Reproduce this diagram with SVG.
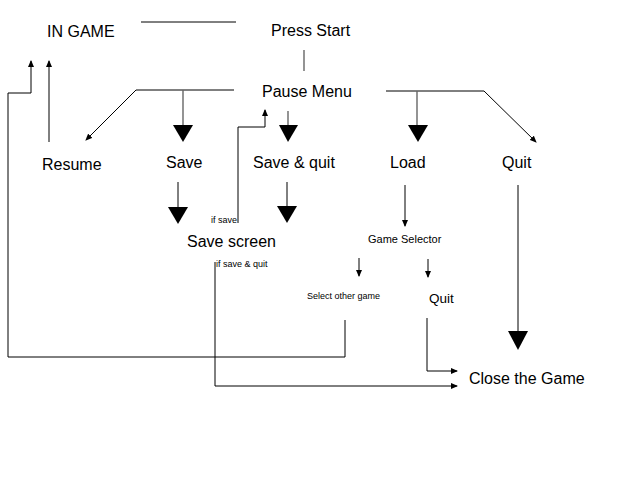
<svg xmlns="http://www.w3.org/2000/svg" width="640" height="480" viewBox="0 0 640 480">
<defs>
<style>
text{font-family:"Liberation Sans",Arial,sans-serif;fill:#000}
.l{font-size:16px}
.m{font-size:11px}
.s{font-size:9px}
.q{font-size:13.5px}
.k{fill:none;stroke:#000;stroke-width:1}
.g{fill:none;stroke:#666;stroke-width:1.4}
.tri{fill:#000}
</style>
<marker id="a" markerWidth="7" markerHeight="6" refX="6" refY="3" orient="auto" markerUnits="userSpaceOnUse">
<path d="M0,0 L7,3 L0,6 Z" fill="#000"/>
</marker>
</defs>
<rect width="640" height="480" fill="#fff"/>
<g id="connectors">
<line class="k" x1="141" y1="22" x2="236" y2="22"/>
<line class="g" x1="304" y1="50" x2="304" y2="71"/>
<polyline class="k" points="234,90 136,90 86,140" marker-end="url(#a)"/>
<line class="g" x1="183" y1="90" x2="183" y2="125"/>
<polygon class="tri" points="173,125 193,125 183,142"/>
<line class="g" x1="288" y1="111" x2="288" y2="125"/>
<polygon class="tri" points="279,125 298,125 288,142"/>
<polyline class="k" points="386,91 484,91 536,142" marker-end="url(#a)"/>
<line class="g" x1="417" y1="91" x2="417" y2="125"/>
<polygon class="tri" points="408,125 428,125 418,142"/>
<polyline class="k" points="238,223 238,127 265,127 265,110" marker-end="url(#a)"/>
<line class="k" x1="49" y1="142" x2="49" y2="61" marker-end="url(#a)"/>
<polyline class="k" points="345,320 345,357 8,357 8,93 31,93 31,61" marker-end="url(#a)"/>
<line class="k" x1="178" y1="182" x2="178" y2="207"/>
<polygon class="tri" points="168,207 188,207 178,224"/>
<line class="k" x1="287" y1="182" x2="287" y2="206"/>
<polygon class="tri" points="277,206 297,206 287,223"/>
<line class="k" x1="405" y1="185" x2="405" y2="226" marker-end="url(#a)"/>
<line class="k" x1="359" y1="258" x2="359" y2="276" marker-end="url(#a)"/>
<line class="k" x1="428" y1="259" x2="428" y2="277" marker-end="url(#a)"/>
<line class="k" x1="518" y1="185" x2="518" y2="331"/>
<polygon class="tri" points="508,331 528,331 518,350"/>
<polyline class="k" points="427,318 427,371 457,371" marker-end="url(#a)"/>
<polyline class="k" points="215,262 215,386 457,386" marker-end="url(#a)"/>
</g>
<g id="n-ingame"><text class="l" x="47" y="37">IN GAME</text></g>
<g id="n-pressstart"><text class="l" x="271" y="36">Press Start</text></g>
<g id="n-pausemenu"><text class="l" x="262" y="97">Pause Menu</text></g>
<g id="n-resume"><text class="l" x="42" y="170">Resume</text></g>
<g id="n-save"><text class="l" x="166" y="168">Save</text></g>
<g id="n-savequit"><text class="l" x="253" y="168">Save &amp; quit</text></g>
<g id="n-load"><text class="l" x="390" y="168">Load</text></g>
<g id="n-quit"><text class="l" x="502" y="168">Quit</text></g>
<g id="n-savescreen"><text class="l" x="187" y="247">Save screen</text></g>
<g id="n-ifsave"><text class="s" x="211" y="223">if save</text></g>
<g id="n-ifsavequit"><text class="s" x="216" y="267">if save &amp; quit</text></g>
<g id="n-gameselector"><text class="m" x="368" y="243">Game Selector</text></g>
<g id="n-selectother"><text class="s" x="307" y="299">Select other game</text></g>
<g id="n-quit2"><text class="q" x="429" y="303">Quit</text></g>
<g id="n-close"><text class="l" x="469" y="384">Close the Game</text></g>
</svg>
